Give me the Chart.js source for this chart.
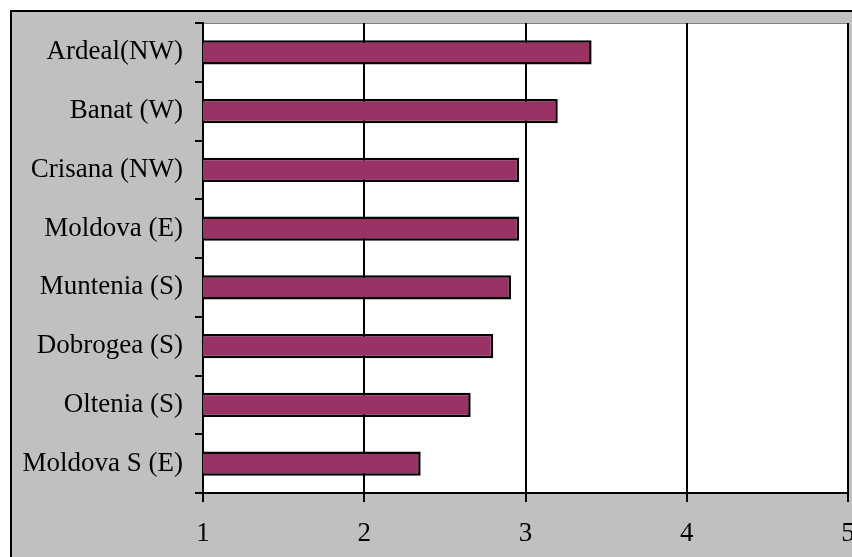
<!DOCTYPE html>
<html>
<head>
<meta charset="utf-8">
<script src="https://cdn.jsdelivr.net/npm/chart.js@4/dist/chart.umd.min.js"></script>
<style>
  html, body { margin: 0; padding: 0; background: #ffffff; }
  #wrap { width: 852px; height: 557px; }
</style>
</head>
<body>
<div id="wrap"><canvas id="barchart" width="852" height="557"></canvas></div>
<script>
const regions = ['Ardeal(NW)', 'Banat (W)', 'Crisana (NW)', 'Moldova (E)', 'Muntenia (S)', 'Dobrogea (S)', 'Oltenia (S)', 'Moldova S (E)'];
const scores = [3.41, 3.20, 2.96, 2.96, 2.91, 2.80, 2.66, 2.35];
const xTicks = [1, 2, 3, 4, 5];

// gray frame + white plot area
const frame = {
    id: 'frame',
    beforeDraw(chart) {
        const c = chart.ctx, a = chart.chartArea;
        c.save();
        c.fillStyle = '#ffffff';
        c.fillRect(0, 0, chart.width, chart.height);
        c.fillStyle = '#c0c0c0';
        c.fillRect(10, 10, chart.width - 10, chart.height - 10);
        c.strokeStyle = '#000000';
        c.lineWidth = 2;
        c.beginPath();
        c.moveTo(11, chart.height);
        c.lineTo(11, 11);
        c.lineTo(chart.width, 11);
        c.stroke();
        c.fillStyle = '#ffffff';
        c.fillRect(a.left, a.top, a.right - a.left, a.bottom - a.top);
        c.strokeStyle = '#808080';
        c.lineWidth = 1;
        c.beginPath();
        c.moveTo(a.left, a.top + 0.5);
        c.lineTo(a.right, a.top + 0.5);
        c.stroke();
        c.restore();
    }
};

const ctx = document.getElementById('barchart');
const myChart = new Chart(ctx, {
    type: 'bar',
    data: {
        labels: regions,
        datasets: [{
            data: scores,
            backgroundColor: '#993366',
            borderColor: '#000000',
            borderWidth: 2.5,
            categoryPercentage: 1,
            barPercentage: 0.41
        }]
    },
    options: {
        indexAxis: 'y',
        responsive: false,
        animation: false,
        layout: { padding: { top: 23, right: 4, left: 10, bottom: 0 } },
        plugins: { legend: { display: false }, tooltip: { enabled: false } },
        scales: {
            x: {
                type: 'linear',
                min: 1,
                max: 5,
                afterBuildTicks(axis) { axis.ticks = xTicks.map(v => ({ value: v })); },
                afterFit(axis) { axis.height = 64; axis.paddingRight = 0; axis.paddingLeft = 0; },
                grid: { color: '#000000', lineWidth: 2, tickLength: 9, drawTicks: true },
                border: { color: '#000000', width: 2 },
                ticks: {
                    color: '#000000',
                    padding: 16,
                    maxRotation: 0,
                    font: { family: 'Liberation Serif', size: 27 }
                }
            },
            y: {
                offset: true,
                afterFit(axis) { axis.width = 193; axis.paddingTop = 0; axis.paddingBottom = 0; },
                grid: { offset: true, drawOnChartArea: false, color: '#000000', lineWidth: 2, tickLength: 8 },
                border: { color: '#000000', width: 2 },
                ticks: {
                    color: '#000000',
                    padding: 12,
                    font: { family: 'Liberation Serif', size: 27 }
                }
            }
        }
    },
    plugins: [frame]
});
</script>
</body>
</html>
